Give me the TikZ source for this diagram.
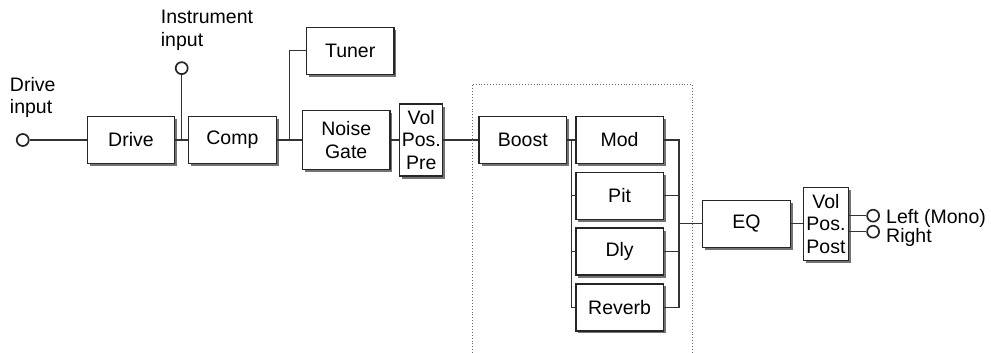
\documentclass[tikz,border=0pt]{standalone}
\usepackage{fontspec}
\setmainfont{Liberation Sans}
\usepackage{tikz}
\usetikzlibrary{positioning,calc,shadows}

\begin{document}
\begin{tikzpicture}[x=1pt, y=-1pt,
  block/.style={rectangle, draw=black!85, line width=1.3pt, fill=white,
                minimum width=87.5pt, minimum height=47pt, align=center, inner sep=2pt,
                drop shadow={shadow xshift=2.5pt, shadow yshift=-2.5pt, fill=black!55, opacity=1}},
  narrow/.style={block, minimum width=45pt, minimum height=73pt},
  wire/.style={draw=black!80, line width=1.3pt},
  jack/.style={circle, draw=black!85, line width=1.7pt, fill=white,
               minimum size=12pt, inner sep=0pt},
  note/.style={align=left, inner sep=0pt},
  frame/.style={draw=black!60, dotted, line width=0.9pt},
  node distance=7.5pt,
  font=\fontsize{19.5}{22.5}\selectfont
]
  \useasboundingbox (0,0) rectangle (991,353);

  % effect chain
  \node[block] (drive) at (131,140) {Drive};
  \node[block, right=12.6pt of drive] (comp) {Comp};
  \node[block, minimum height=59pt, right=25pt of comp] (gate) {Noise\\Gate};
  \node[block, above=35pt of gate, xshift=4pt] (tuner) {Tuner};
  \node[narrow, minimum width=43pt, minimum height=72pt, right=8.5pt of gate] (volpre) {Vol\\Pos.\\Pre};
  \node[block, right=35pt of volpre] (boost) {Boost};
  \node[block, right=8pt of boost] (mod) {Mod};
  \node[block, below=of mod] (pit) {Pit};
  \node[block, below=of pit] (dly) {Dly};
  \node[block, below=of dly] (reverb) {Reverb};
  \coordinate (split) at ($(boost.east)!.5!(mod.west)$);
  \coordinate (mix) at ($(pit.east)!.5!(dly.east)+(15,0)$);
  \node[block, right=23pt of mix] (eq) {EQ};
  \node[narrow, right=12pt of eq] (volpost) {Vol\\Pos.\\Post};

  % inputs and outputs
  \node[jack, left=57pt of drive] (drivein) {};
  \node[note, anchor=south west] (drivetxt) at ($(drivein.north)+(-13,-15)$) {Drive\\input};
  \coordinate (instjoin) at ($(drive.east)!.5!(comp.west)$);
  \node[jack, above=65pt of instjoin] (instin) {};
  \node[note, anchor=south west] (insttxt) at ($(instin.north)+(-21,-11)$) {Instrument\\input};
  \coordinate (tunejoin) at ($(comp.east)!.5!(gate.west)$);
  \node[jack] (outl) at ($(volpost.east)+(24,-8)$) {};
  \node[jack] (outr) at ($(volpost.east)+(24,8)$) {};
  \node[note, right=6pt of outl, yshift=-3pt] (lefttxt) {Left (Mono)};
  \node[note, right=6pt of outr, yshift=-6pt] (righttxt) {Right};

  % wiring
  \draw[wire] (drivein) -- (drive);
  \draw[wire] (drive) -- (comp);
  \draw[wire] (instin) -- (instjoin);
  \draw[wire] (comp) -- (gate);
  \draw[wire] (tunejoin) |- (tuner);
  \draw[wire] (gate) -- (volpre);
  \draw[wire] (volpre) -- (boost);
  \draw[wire] (boost) -- (mod);
  \draw[wire] (split) |- (pit);
  \draw[wire] (split) |- (dly);
  \draw[wire] (split) |- (reverb);
  \draw[wire] (mod.east) -| (mix |- reverb.east) -- (reverb.east);
  \draw[wire] (pit) -- (pit -| mix);
  \draw[wire] (dly) -- (dly -| mix);
  \draw[wire] (mix) -- (eq);
  \draw[wire] (eq) -- (volpost);
  \draw[wire] (volpost.east |- outl) -- (outl);
  \draw[wire] (volpost.east |- outr) -- (outr);

  % effects section
  \draw[frame] (472,353) -- (472,84) -- (692,84) -- (692,353);
\end{tikzpicture}
\end{document}
